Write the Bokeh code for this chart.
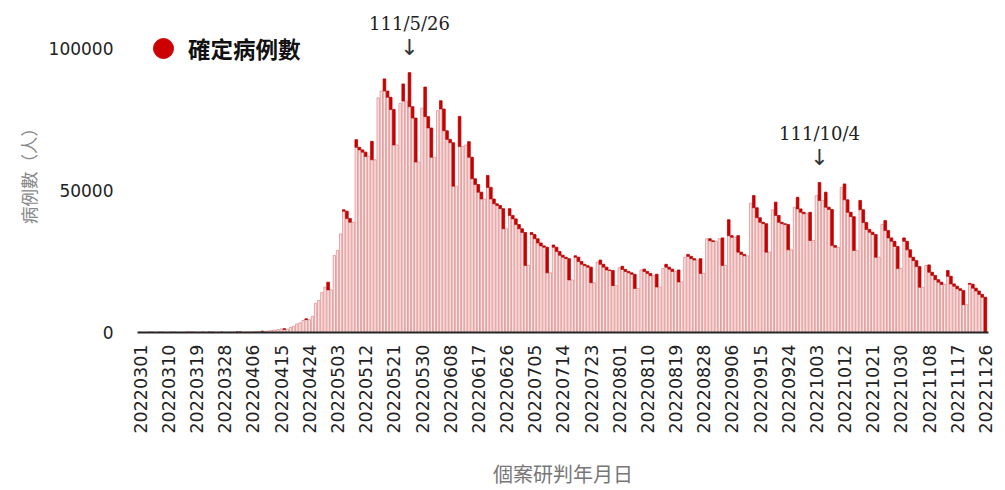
import numpy as np
import pandas as pd
from bokeh.plotting import figure
from bokeh.models import Range1d, FixedTicker, Title, Legend, LegendItem, ColumnDataSource
from bokeh.core.properties import value
from bokeh.embed import file_html
from bokeh.resources import INLINE

start_date = "2022-03-01"

cases_mar = [45, 38, 55, 60, 52, 44, 63, 57, 49, 70, 76, 58, 52, 72, 80, 85, 81, 66, 60, 84,
             95, 90, 108, 100, 88, 115, 125, 102, 140, 160, 165]
cases_apr = [170, 160, 135, 190, 210, 270, 330, 390, 430, 400, 560, 700, 850, 1050, 1250, 1350,
             1100, 1800, 2200, 3000, 3400, 4200, 4800, 4500, 5700, 10300, 11300, 14000, 16000, 17700]
cases_may = [15000, 27100, 28900, 34700, 43200, 42700, 40100, 38800, 67900, 65200, 64300, 63500,
             62000, 67300, 60800, 82600, 85000, 89300, 85000, 82800, 78500, 66000, 80700, 87500,
             81500, 91500, 79500, 75500, 60000, 79000, 86400]
cases_jun = [76000, 72000, 61700, 78100, 81600, 78700, 71000, 68000, 66800, 51500, 76100, 65500,
             66000, 67200, 61700, 54100, 52100, 49400, 47000, 55300, 51100, 47000, 45300, 44700,
             43600, 36500, 43600, 41200, 40000, 38000]
cases_jul = [36500, 35200, 23600, 35200, 34500, 33000, 31500, 30500, 30000, 21000, 30800, 30000,
             28500, 27200, 26500, 26000, 18500, 27000, 26500, 25000, 24000, 23500, 23000, 17500,
             24800, 25500, 24000, 23000, 22000, 21800, 16500]
cases_aug = [22800, 23300, 22200, 21500, 21000, 20500, 15500, 22000, 22300, 21500, 20800, 20000,
             20500, 16000, 22500, 24000, 23000, 22300, 21500, 22000, 17800, 26500, 27500, 26800,
             26000, 25500, 26000, 20800, 33000, 33000, 32300]
cases_sep = [32000, 33000, 33300, 23600, 39700, 34100, 33500, 34100, 28300, 27500, 27000, 45500,
             48200, 43900, 40400, 38800, 38300, 28300, 43200, 45900, 41200, 38800, 38300, 38000,
             29100, 44100, 47600, 43500, 42300, 41800]
cases_oct = [42300, 32400, 48200, 52800, 46500, 49400, 44100, 43300, 30600, 30000, 51100, 52300,
             46700, 42300, 40800, 28900, 46500, 43200, 38700, 36300, 35300, 34500, 26500, 38000,
             39400, 35900, 33300, 32100, 30300, 22500, 33300]
cases_nov = [32100, 29100, 26500, 25300, 23200, 15900, 23600, 23800, 21200, 20100, 18600, 17700,
             16900, 21800, 19800, 17100, 16300, 15400, 14800, 9800, 17300, 17000, 15600, 14600,
             13400, 12400]

tick_labels = ["20220301", "20220310", "20220319", "20220328", "20220406", "20220415", "20220424",
               "20220503", "20220512", "20220521", "20220530", "20220608", "20220617", "20220626",
               "20220705", "20220714", "20220723", "20220801", "20220810", "20220819", "20220828",
               "20220906", "20220915", "20220924", "20221003", "20221012", "20221021", "20221030",
               "20221108", "20221117", "20221126"]
y_ticks = [0, 50000, 100000]
annotation_dates = ["20220526", "20221004"]
annotation_texts = ["111/5/26", "111/10/4"]
series_name = "確定病例數"
x_title = "個案研判年月日"
y_title = "病例數（人）"

cases = np.array(cases_mar + cases_apr + cases_may + cases_jun + cases_jul + cases_aug
                 + cases_sep + cases_oct + cases_nov, dtype=float)
dates = pd.date_range(start_date, periods=len(cases), freq="D")
date_labels = [d.strftime("%Y%m%d") for d in dates]
idx = np.arange(len(cases))

# dark part: where the following day is lower
nxt = np.append(cases[1:], 0.0)
mask = cases > nxt

p = figure(width=1005, height=490, output_backend="svg", toolbar_location=None,
           x_range=Range1d(-0.9, 271.0), y_range=Range1d(0, 113380),
           min_border_left=137, min_border_right=17, min_border_top=10, min_border_bottom=158)
p.outline_line_color = None
p.xgrid.visible = False
p.ygrid.visible = False
p.background_fill_color = "white"
p.border_fill_color = "white"

p.vbar(x=idx, top=cases, bottom=0, width=0.75, fill_color="#fbe6e6",
       line_color="#e08e8e", line_width=0.8)
p.vbar(x=idx[mask], top=cases[mask], bottom=nxt[mask], width=0.85,
       fill_color="#cc0000", line_color="#b40000", line_width=0.6)

# annotations
ann_x = [date_labels.index(d) for d in annotation_dates]
ann_y = [cases[i] for i in ann_x]
src = ColumnDataSource(dict(x=ann_x, y=ann_y, t=annotation_texts, a=["↓"] * len(ann_x)))
p.text(x="x", y="y", text="t", source=src, y_offset=-49, text_align="center",
       text_baseline="middle", text_font=value("DejaVu Serif"), text_font_size="18px",
       text_color="#222222")
p.text(x="x", y="y", text="a", source=src, y_offset=-25, text_align="center",
       text_baseline="middle", text_font=value("DejaVu Sans"), text_font_size="22px",
       text_color="#333333")

# legend
leg_r = p.scatter(x=[np.nan], y=[np.nan], marker="circle", fill_color="#cc0000",
                  line_color="#cc0000")
legend = Legend(items=[LegendItem(label=series_name, renderers=[leg_r])],
                location=(1, 259), padding=0, margin=0, glyph_width=50, glyph_height=50,
                label_standoff=-3, border_line_color=None, background_fill_alpha=0,
                label_text_font="Noto Sans CJK TC", label_text_font_size="22.5px",
                label_text_font_style="bold", label_text_color="#111111")
p.add_layout(legend)

# x axis
tick_pos = [date_labels.index(t) for t in tick_labels]
p.xaxis.ticker = FixedTicker(ticks=tick_pos)
p.xaxis.major_label_overrides = {int(i): t for i, t in zip(tick_pos, tick_labels)}
p.xaxis.major_label_orientation = np.pi / 2
p.xaxis.major_label_text_font = "DejaVu Sans"
p.xaxis.major_label_text_font_size = "17.5px"
p.xaxis.major_label_text_color = "#222222"
p.xaxis.major_label_standoff = 12
p.xaxis.major_tick_out = 0
p.xaxis.major_tick_in = 0
p.xaxis.minor_tick_out = 0
p.xaxis.minor_tick_in = 0
p.xaxis.axis_line_color = "#262626"
p.xaxis.axis_line_width = 2
p.xaxis.axis_label = x_title
p.xaxis.axis_label_text_font = "Noto Sans CJK TC"
p.xaxis.axis_label_text_font_size = "20px"
p.xaxis.axis_label_text_font_style = "normal"
p.xaxis.axis_label_text_color = "#777777"
p.xaxis.axis_label_standoff = 22

# y axis
p.yaxis.ticker = FixedTicker(ticks=y_ticks)
p.yaxis.major_label_overrides = {v: str(v) for v in y_ticks}
p.yaxis.major_label_text_font = "DejaVu Sans"
p.yaxis.major_label_text_font_size = "17px"
p.yaxis.major_label_text_color = "#222222"
p.yaxis.major_label_standoff = 24
p.yaxis.major_tick_out = 0
p.yaxis.major_tick_in = 0
p.yaxis.minor_tick_out = 0
p.yaxis.minor_tick_in = 0
p.yaxis.axis_line_color = None

ytitle = Title(text=y_title, align="center", offset=-27, text_font="Noto Sans CJK TC",
               text_font_size="17.5px", text_color="#888888", text_font_style="normal")
p.add_layout(ytitle, "left")

open("out.html", "w").write(file_html(p, INLINE))
